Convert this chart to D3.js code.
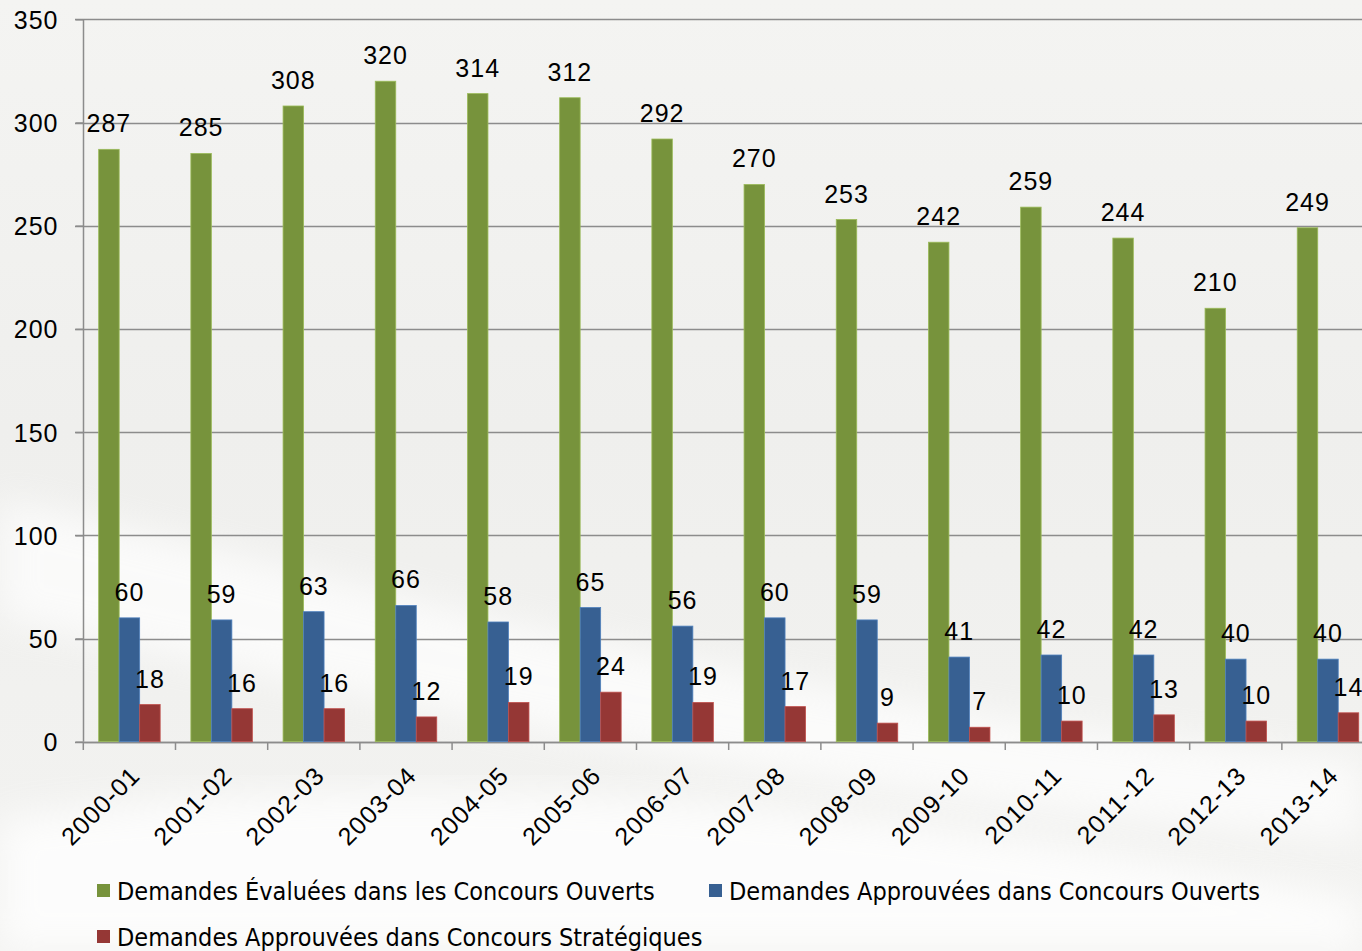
<!DOCTYPE html>
<html>
<head>
<meta charset="utf-8">
<script src="https://cdn.jsdelivr.net/npm/d3@7"></script>
<style>
  body { margin: 0; overflow: hidden; background: #f2f2f0; }
  svg { display: block; }
  .tick text { font-family: "Liberation Sans", Arial, sans-serif; font-size: 25px; letter-spacing: 1px; fill: #000; }
  .label { font-family: "Liberation Sans", Arial, sans-serif; font-size: 25px; letter-spacing: 1px; fill: #000; }
  .legend text { font-family: "Liberation Sans Narrow", "DejaVu Sans Condensed", sans-serif; font-size: 25px; fill: #000; }
</style>
</head>
<body>
<svg width="1362" height="951"></svg>
<script>
// **** data ****
var years = ['2000-01','2001-02','2002-03','2003-04','2004-05','2005-06','2006-07',
             '2007-08','2008-09','2009-10','2010-11','2011-12','2012-13','2013-14'];
var evaluees = [287, 285, 308, 320, 314, 312, 292, 270, 253, 242, 259, 244, 210, 249];
var approuveesOuverts = [60, 59, 63, 66, 58, 65, 56, 60, 59, 41, 42, 42, 40, 40];
var approuveesStrat = [18, 16, 16, 12, 19, 24, 19, 17, 9, 7, 10, 13, 10, 14];
var seriesNames = ['Demandes Évaluées dans les Concours Ouverts',
                   'Demandes Approuvées dans Concours Ouverts',
                   'Demandes Approuvées dans Concours Stratégiques'];
var yTicks = [0, 50, 100, 150, 200, 250, 300, 350];

var colors = ['#77933c', '#376092', '#953735'];
var strokes = ['#9bbb59', '#4f81bd', '#c0504d'];
var series = [evaluees, approuveesOuverts, approuveesStrat];

var svg = d3.select('svg');

// background with soft white swoosh
var defs = svg.append('defs');
var bg = defs.append('linearGradient').attr('id', 'bg')
    .attr('x1', 0).attr('y1', 0).attr('x2', 0).attr('y2', 1);
bg.append('stop').attr('offset', '0%').attr('stop-color', '#f4f4f2');
bg.append('stop').attr('offset', '45%').attr('stop-color', '#efefed');
bg.append('stop').attr('offset', '100%').attr('stop-color', '#f3f3f1');
defs.append('filter').attr('id', 'blur').append('feGaussianBlur').attr('stdDeviation', 18);

svg.append('rect').attr('width', 1362).attr('height', 951).attr('fill', 'url(#bg)');
svg.append('path')
    .attr('d', 'M0,500 C300,560 700,700 1362,760 L1362,840 C800,800 400,700 0,620 Z')
    .attr('fill', '#ffffff').attr('opacity', 0.7).attr('filter', 'url(#blur)');
svg.append('path')
    .attr('d', 'M0,820 C400,760 900,800 1362,900 L1362,951 L0,951 Z')
    .attr('fill', '#ffffff').attr('opacity', 0.8).attr('filter', 'url(#blur)');

// **** scales ****
var x = d3.scaleBand().domain(years).range([83.3, 83.3 + 14 * 92.2])
    .paddingInner(0.333).paddingOuter(0.1667);
var xs = d3.scaleBand().domain([0, 1, 2]).range([0, x.bandwidth()]);
var y = d3.scaleLinear().domain([0, 350]).range([741.7, 19.3]);

// gridlines
svg.append('g').selectAll('line')
    .data(yTicks)
    .enter()
    .append('line')
    .attr('x1', 75).attr('x2', 1362)
    .attr('y1', function(d) { return Math.round(y(d)) + 0.5; })
    .attr('y2', function(d) { return Math.round(y(d)) + 0.5; })
    .attr('stroke', '#8c8c8c').attr('stroke-width', 1.5);

// y axis
var yAxis = svg.append('g').attr('class', 'y axis')
    .attr('transform', 'translate(83.5,0)')
    .call(d3.axisLeft(y).tickValues(yTicks).tickSize(8).tickPadding(17));
yAxis.selectAll('line').attr('stroke', '#8c8c8c').attr('stroke-width', 1.5);
yAxis.select('.domain').attr('stroke', '#8c8c8c').attr('stroke-width', 1.5).attr('d', 'M0,19.3V741.7');
yAxis.selectAll('text').attr('dy', '0.36em');

// x axis
var xAxis = svg.append('g').attr('class', 'x axis')
    .attr('transform', 'translate(0,742)')
    .call(d3.axisBottom(x).tickSize(0));
xAxis.select('.domain').attr('stroke', '#8c8c8c').attr('stroke-width', 1.5);
xAxis.selectAll('text')
    .attr('text-anchor', 'end')
    .attr('dy', 0)
    .attr('transform', 'translate(10,33) rotate(-45)');
// tick marks between categories
xAxis.selectAll('.sep')
    .data(years)
    .enter()
    .append('line')
    .attr('class', 'sep')
    .attr('x1', function(d) { return x(d) - x.step() * x.paddingOuter(); })
    .attr('x2', function(d) { return x(d) - x.step() * x.paddingOuter(); })
    .attr('y1', 0).attr('y2', 8)
    .attr('stroke', '#8c8c8c').attr('stroke-width', 1.5);

// bars
series.forEach(function(values, s) {
    var g = svg.append('g');
    g.selectAll('rect')
        .data(values)
        .enter()
        .append('rect')
        .attr('x', function(d, i) { return x(years[i]) + xs(s); })
        .attr('y', function(d) { return y(d); })
        .attr('width', xs.bandwidth())
        .attr('height', function(d) { return y(0) - y(d); })
        .attr('fill', colors[s])
        .attr('stroke', strokes[s]).attr('stroke-width', 0.8);
    g.selectAll('text')
        .data(values)
        .enter()
        .append('text')
        .attr('class', 'label')
        .attr('text-anchor', 'middle')
        .attr('x', function(d, i) { return x(years[i]) + xs(s) + xs.bandwidth() / 2; })
        .attr('y', function(d) { return y(d) - 17; })
        .text(function(d) { return d; });
});

// legend
var legendPos = [[97, 892], [709, 892], [97, 938]];
var legend = svg.append('g').attr('class', 'legend');
seriesNames.forEach(function(name, i) {
    legend.append('rect')
        .attr('x', legendPos[i][0]).attr('y', legendPos[i][1] - 8)
        .attr('width', 13).attr('height', 13)
        .attr('fill', colors[i]);
    legend.append('text')
        .attr('x', legendPos[i][0] + 20).attr('y', legendPos[i][1] + 8)
        .text(name);
});
</script>
</body>
</html>
